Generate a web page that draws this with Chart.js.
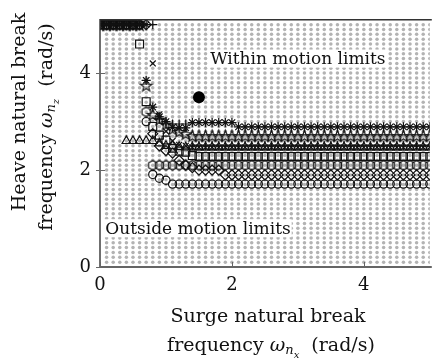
<!DOCTYPE html>
<html>
<head>
<meta charset="utf-8">
<script src="https://cdn.jsdelivr.net/npm/chart.js@4/dist/chart.umd.min.js"></script>
<style>
  html, body { margin: 0; padding: 0; background: #fff; }
  #wrap { width: 437px; height: 361px; position: relative; }
</style>
</head>
<body>
<div id="wrap"><canvas id="chart" width="437" height="361"></canvas></div>
<script>
// Surge natural break frequency samples (rad/s)
const surgeFreq = [0,0.1,0.2,0.3,0.4,0.5,0.6,0.7,0.8,0.9,1.0,1.1,1.2,1.3,1.4,1.5,1.6,1.7,1.8,1.9,2.0,
  2.1,2.2,2.3,2.4,2.5,2.6,2.7,2.8,2.9,3.0,3.1,3.2,3.3,3.4,3.5,3.6,3.7,3.8,3.9,4.0,
  4.1,4.2,4.3,4.4,4.5,4.6,4.7,4.8,4.9,5.0];

// Sampling lattice of the motion-limit check
const gridSurge = [0.1,0.2,0.3,0.4,0.5,0.6,0.7,0.8,0.9,1.0,1.1,1.2,1.3,1.4,1.5,1.6,1.7,1.8,1.9,2.0,
  2.1,2.2,2.3,2.4,2.5,2.6,2.7,2.8,2.9,3.0,3.1,3.2,3.3,3.4,3.5,3.6,3.7,3.8,3.9,4.0,
  4.1,4.2,4.3,4.4,4.5,4.6,4.7,4.8,4.9,5.0];
const gridHeave = [0.1,0.2,0.3,0.4,0.5,0.6,0.7,0.8,0.9,1.0,1.1,1.2,1.3,1.4,1.5,1.6,1.7,1.8,1.9,2.0,
  2.1,2.2,2.3,2.4,2.5,2.6,2.7,2.8,2.9,3.0,3.1,3.2,3.3,3.4,3.5,3.6,3.7,3.8,3.9,4.0,
  4.1,4.2,4.3,4.4,4.5,4.6,4.7,4.8,4.9,5.0];

// Heave break frequency boundary (rad/s) for each marker family
const heaveCircle = [5,5,5,5,5,5,5,3.0,1.91,1.83,1.79,
  1.71,1.71,1.71,1.71,1.71,1.71,1.71,1.71,1.71,1.71,1.71,1.71,1.71,1.71,1.71,1.71,1.71,1.71,1.71,1.71,
  1.71,1.71,1.71,1.71,1.71,1.71,1.71,1.71,1.71,1.71,1.71,1.71,1.71,1.71,1.71,1.71,1.71,1.71,1.71,1.71];
const heaveDiamond = [5,5,5,5,5,5,5,5,2.75,2.5,2.4,2.35,2.2,2.1,2.05,2.0,2.0,2.0,2.0,
  1.9,1.9,1.9,1.9,1.9,1.9,1.9,1.9,1.9,1.9,1.9,1.9,1.9,1.9,1.9,1.9,1.9,
  1.9,1.9,1.9,1.9,1.9,1.9,1.9,1.9,1.9,1.9,1.9,1.9,1.9,1.9,1.9];
const heaveHexagon = [5,5,5,5,5,5,5,3.2,
  2.1,2.1,2.1,2.1,2.1,2.1,2.1,2.1,2.1,2.1,2.1,2.1,2.1,2.1,2.1,2.1,2.1,2.1,2.1,2.1,2.1,2.1,2.1,
  2.1,2.1,2.1,2.1,2.1,2.1,2.1,2.1,2.1,2.1,2.1,2.1,2.1,2.1,2.1,2.1,2.1,2.1,2.1,2.1];
const heaveSquare = [5,5,5,5,5,5,4.6,3.41,2.9,2.72,2.62,2.45,2.39,2.37,2.3,
  2.28,2.28,2.28,2.28,2.28,2.28,2.28,2.28,2.28,2.28,2.28,2.28,2.28,2.28,2.28,2.28,2.28,2.28,2.28,2.28,2.28,
  2.28,2.28,2.28,2.28,2.28,2.28,2.28,2.28,2.28,2.28,2.28,2.28,2.28,2.28,2.28];
const heaveTriangle = [null,null,null,null,2.6,2.6,2.6,2.6,2.6,2.55,2.5,2.5,2.48,
  2.47,2.47,2.47,2.47,2.47,2.47,2.47,2.47,2.47,2.47,2.47,2.47,2.47,2.47,2.47,2.47,2.47,2.47,
  2.47,2.47,2.47,2.47,2.47,2.47,2.47,2.47,2.47,2.47,2.47,2.47,2.47,2.47,2.47,2.47,2.47,2.47,2.47,2.47];
const heavePentagram = [5,5,5,5,5,5,5,3.75,3.15,3.05,2.95,2.85,2.8,2.75,
  2.71,2.71,2.71,2.71,2.71,2.71,2.71,2.71,2.71,2.71,2.71,2.71,2.71,2.71,2.71,2.71,2.71,
  2.71,2.71,2.71,2.71,2.71,2.71,2.71,2.71,2.71,2.71,2.71,2.71,2.71,2.71,2.71,2.71,2.71,2.71,2.71,2.71];
const heaveAsterisk = [5,5,5,5,5,5,5,3.85,3.3,3.1,3.0,2.88,2.87,2.87,
  2.98,2.98,2.98,2.98,2.98,2.98,2.98,
  2.89,2.89,2.89,2.89,2.89,2.89,2.89,2.89,2.89,2.89,2.89,2.89,2.89,2.89,2.89,
  2.89,2.89,2.89,2.89,2.89,2.89,2.89,2.89,2.89,2.89,2.89,2.89,2.89,2.89,2.89];
const heaveCrossRot = [5,5,5,5,5,5,5,5,4.2,3.15,2.8,2.6,2.52,2.5,
  2.47,2.47,2.47,2.47,2.47,2.47,2.47,2.47,2.47,2.47,2.47,2.47,2.47,2.47,2.47,2.47,2.47,
  2.47,2.47,2.47,2.47,2.47,2.47,2.47,2.47,2.47,2.47,2.47,2.47,2.47,2.47,2.47,2.47,2.47,2.47,2.47,2.47];
const heavePlus = [5,5,5,5,5,5,5,5,5,3.05,2.95,2.95,2.95,2.95,
  2.5,2.5,2.5,2.5,2.5,2.5,2.5,2.5,2.5,2.5,2.5,2.5,2.5,2.5,2.5,2.5,2.5,
  2.5,2.5,2.5,2.5,2.5,2.5,2.5,2.5,2.5,2.5,2.5,2.5,2.5,2.5,2.5,2.5,2.5,2.5,2.5,2.5];

// Highlighted operating point
const selectedSurge = [1.5];
const selectedHeave = [3.5];

const xTickValues = [0, 2, 4];
const yTickValues = [0, 2, 4];

const INK = '#111';
const MARK_W = 1.2;

function markerCanvas(size, draw) {
  const c = document.createElement('canvas');
  c.width = size; c.height = size;
  const g = c.getContext('2d');
  g.translate(size / 2, size / 2);
  g.strokeStyle = INK;
  g.lineWidth = MARK_W;
  g.lineJoin = 'miter';
  draw(g);
  return c;
}
const hexagonMarker = markerCanvas(13, g => {
  const r = 4.8;
  g.beginPath();
  for (let k = 0; k < 6; k++) {
    const a = Math.PI / 6 + k * Math.PI / 3;
    const px = r * Math.cos(a), py = r * Math.sin(a);
    k ? g.lineTo(px, py) : g.moveTo(px, py);
  }
  g.closePath(); g.stroke();
});
const pentagramMarker = markerCanvas(15, g => {
  const ro = 6, ri = 2.5;
  g.beginPath();
  for (let k = 0; k < 10; k++) {
    const r = k % 2 ? ri : ro;
    const a = -Math.PI / 2 + k * Math.PI / 5;
    const px = r * Math.cos(a), py = r * Math.sin(a) + 0.8;
    k ? g.lineTo(px, py) : g.moveTo(px, py);
  }
  g.closePath(); g.stroke();
});

function pairs(xs, ys) {
  const out = [];
  xs.forEach((x, i) => { if (ys[i] !== null && ys[i] !== undefined) out.push({ x, y: ys[i] }); });
  return out;
}
function latticePoints() {
  const pts = [];
  gridSurge.forEach(x => gridHeave.forEach(y => pts.push({ x, y })));
  return pts;
}
let drawOrder = 50;
function series(label, ys, style, radius) {
  return {
    label,
    order: drawOrder--,
    data: pairs(surgeFreq, ys),
    pointStyle: style,
    pointRadius: radius,
    pointBorderWidth: MARK_W,
    borderColor: INK,
    backgroundColor: 'rgba(0,0,0,0)',
    showLine: false,
    clip: 0
  };
}

const datasets = [
  { label: 'lattice', order: 100, data: latticePoints(), pointStyle: 'circle', pointRadius: 1.75,
    pointBorderWidth: 0, backgroundColor: '#b3b3b3', borderColor: '#b3b3b3', showLine: false },
  series('circle', heaveCircle, 'circle', 4.1),
  series('diamond', heaveDiamond, 'rectRot', 5),
  series('hexagon', heaveHexagon, hexagonMarker, 5),
  series('square', heaveSquare, 'rect', 5.6),
  series('triangle', heaveTriangle, 'triangle', 5),
  series('pentagram', heavePentagram, pentagramMarker, 6),
  series('asterisk', heaveAsterisk, 'star', 4.6),
  series('cross', heaveCrossRot, 'crossRot', 4.2),
  series('plus', heavePlus, 'cross', 4.5),
  { label: 'selected', order: 0, data: pairs(selectedSurge, selectedHeave), pointStyle: 'circle',
    pointRadius: 6, pointBorderWidth: 0, backgroundColor: '#000', borderColor: '#000', showLine: false }
];

const SERIF = '"DejaVu Serif", serif';

function drawRuns(ctx, runs, cx, cy, angle) {
  ctx.save();
  ctx.translate(cx, cy);
  ctx.rotate(angle);
  let total = 0;
  runs.forEach(r => { ctx.font = r.f; total += ctx.measureText(r.t).width; });
  let x = -total / 2;
  ctx.textBaseline = 'middle';
  ctx.textAlign = 'left';
  ctx.fillStyle = '#111';
  runs.forEach(r => {
    ctx.font = r.f;
    ctx.fillText(r.t, x, r.dy || 0);
    x += ctx.measureText(r.t).width;
  });
  ctx.restore();
}

const frame = {
  id: 'frame',
  afterDatasetsDraw(chart) {
    const { ctx, chartArea: a, scales } = chart;
    ctx.save();
    // in-plot region labels on a white backing
    ctx.font = '17px ' + SERIF;
    ctx.textBaseline = 'middle';
    const notes = [
      { t: 'Within motion limits', x: 1.67, y: 4.3 },
      { t: 'Outside motion limits', x: 0.08, y: 0.8 }
    ];
    notes.forEach(n => {
      const px = scales.x.getPixelForValue(n.x);
      const py = scales.y.getPixelForValue(n.y);
      const w = ctx.measureText(n.t).width;
      ctx.fillStyle = '#fff';
      ctx.fillRect(px - 1, py - 9, w + 2, 18);
      ctx.fillStyle = '#111';
      ctx.fillText(n.t, px, py + 1);
    });
    // axis box (left, top, bottom)
    ctx.strokeStyle = '#333';
    ctx.lineWidth = 1.4;
    ctx.beginPath();
    ctx.moveTo(a.right + 2, a.top);
    ctx.lineTo(a.left, a.top);
    ctx.lineTo(a.left, a.bottom);
    ctx.lineTo(a.right + 2, a.bottom);
    ctx.stroke();
    // inward tick marks
    ctx.strokeStyle = '#666';
    ctx.lineWidth = 1;
    ctx.beginPath();
    xTickValues.forEach(v => {
      const px = Math.round(scales.x.getPixelForValue(v)) + 0.5;
      ctx.moveTo(px, a.bottom); ctx.lineTo(px, a.bottom - 5);
    });
    yTickValues.forEach(v => {
      const py = Math.round(scales.y.getPixelForValue(v)) + 0.5;
      ctx.moveTo(a.left - 4, py); ctx.lineTo(a.left + 5, py);
    });
    ctx.stroke();
    ctx.restore();
  },
  afterDraw(chart) {
    const ctx = chart.ctx;
    const big = '19px ' + SERIF;
    const it = 'italic 19px ' + SERIF;
    const sub = 'italic 13px ' + SERIF;
    const sub2 = 'italic 10px ' + SERIF;
    drawRuns(ctx, [{ t: 'Surge natural break', f: big }], 268, 317, 0);
    drawRuns(ctx, [
      { t: 'frequency ', f: big }, { t: 'ω', f: it }, { t: 'n', f: sub, dy: 5 },
      { t: 'x', f: sub2, dy: 9 }, { t: '  (rad/s)', f: big }
    ], 271, 346, 0);
    drawRuns(ctx, [{ t: 'Heave natural break', f: big }], 20, 112, -Math.PI / 2);
    drawRuns(ctx, [
      { t: 'frequency ', f: big }, { t: 'ω', f: it }, { t: 'n', f: sub, dy: 5 },
      { t: 'z', f: sub2, dy: 9 }, { t: '  (rad/s)', f: big }
    ], 47, 127, -Math.PI / 2);
  }
};

new Chart(document.getElementById('chart'), {
  type: 'scatter',
  data: { datasets },
  options: {
    responsive: false,
    animation: false,
    events: [],
    layout: { padding: { top: 8, right: 0, left: 0, bottom: 0 } },
    plugins: { legend: { display: false }, tooltip: { enabled: false } },
    scales: {
      x: {
        type: 'linear', min: 0, max: 5,
        border: { display: false },
        grid: { display: false, drawTicks: false },
        afterBuildTicks: s => { s.ticks = xTickValues.map(v => ({ value: v })); },
        afterFit: s => { s.height = 94; },
        ticks: { color: '#111', padding: 8, font: { family: SERIF, size: 18 }, maxRotation: 0 }
      },
      y: {
        type: 'linear', min: 0, max: 5.1,
        border: { display: false },
        grid: { display: false, drawTicks: false },
        afterBuildTicks: s => { s.ticks = yTickValues.map(v => ({ value: v })); },
        afterFit: s => { s.width = 100; },
        ticks: { color: '#111', padding: 9, font: { family: SERIF, size: 18 } }
      }
    }
  },
  plugins: [frame]
});
</script>
</body>
</html>
